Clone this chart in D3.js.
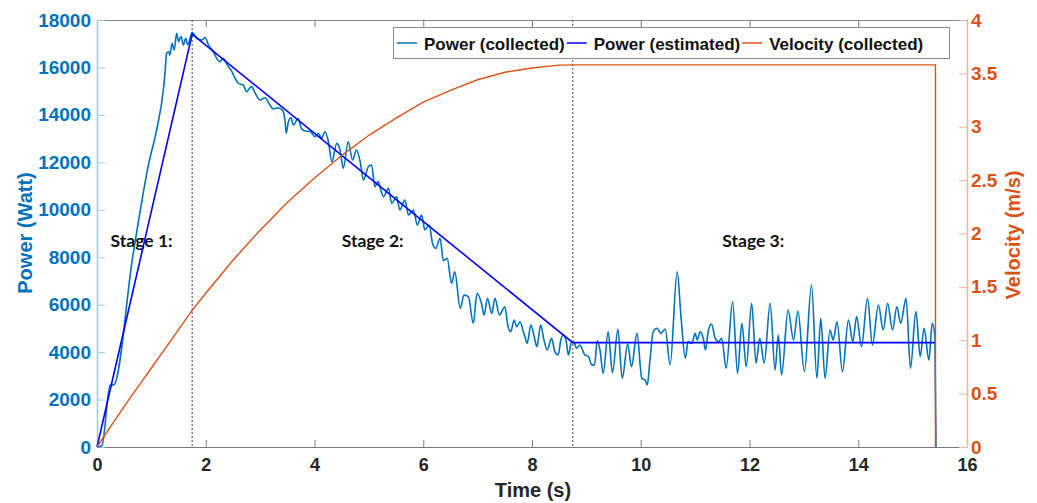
<!DOCTYPE html>
<html><head><meta charset="utf-8">
<script src="https://cdn.jsdelivr.net/npm/d3@7"></script>
<style>
html,body{margin:0;padding:0;background:#fff;}
svg{display:block;}
text{font-family:"Liberation Sans",Arial,sans-serif;font-weight:bold;}
</style></head>
<body><svg id="c" width="1037" height="503"></svg>
<script>
// ---- data ----
const xTicks = [0,2,4,6,8,10,12,14,16];
const powerTicks = [0,2000,4000,6000,8000,10000,12000,14000,16000,18000];
const velTicks = [0,0.5,1,1.5,2,2.5,3,3.5,4];
const stageBounds = [1.75, 8.75];
const stageLabels = ["Stage 1:","Stage 2:","Stage 3:"];
const stageLabelX = [0.25, 4.5, 11.5];
const legendLabels = ["Power (collected)","Power (estimated)","Velocity (collected)"];

const powerTime = [0,0.09,0.24,0.31,0.656,0.956,1.1,1.22,1.25,1.28,1.32,1.34,1.38,1.42,1.465,1.5,1.545,1.59,1.63,1.67,1.75,
1.83,1.93,1.99,2.05,2.14,2.2,2.26,2.32,2.39,2.48,2.54,2.6,2.69,2.75,2.84,2.91,3.0,3.09,3.18,3.24,3.33,3.41,3.46,3.48,3.52,3.57,3.61,3.7,3.76,3.83,
3.92,4.01,4.07,4.13,4.19,4.25,4.32,4.41,4.47,4.53,4.62,4.7,4.77,4.84,4.9,4.99,5.05,5.11,5.17,5.22,5.27,5.36,5.42,5.51,5.57,5.66,5.73,5.82,5.89,5.97,6.03,6.11,6.17,6.23,6.31,6.37,6.44,
6.52,6.58,6.68,6.75,6.83,6.92,6.99,7.07,7.12,7.18,7.26,7.32,7.4,7.5,7.56,7.61,7.67,7.72,7.78,7.84,7.87,7.91,7.98,8.04,8.09,8.16,8.22,8.28,8.36,8.42,8.48,8.53,8.58,8.63,8.67,8.73,
8.78,8.82,8.88,8.93,8.97,9.04,9.1,9.15,9.2,9.25,9.31,9.4,9.48,9.58,9.66,9.76,9.83,9.93,10.02,10.08,10.12,10.17,10.23,10.3,10.37,10.45,10.54,10.67,10.74,10.82,10.87,10.94,11.0,11.04,11.09,11.15,11.19,11.24,11.3,11.37,11.43,11.49,11.57,11.69,11.78,11.86,11.94,12.04,12.12,12.19,12.27,12.38,12.47,12.53,12.59,12.71,12.81,12.89,13.01,13.14,13.24,13.31,13.39,13.48,13.54,13.61,13.71,13.82,13.9,13.97,14.06,14.17,14.26,14.37,14.46,14.54,14.63,14.71,14.78,14.88,14.96,15.06,15.14,15.21,15.3,15.36,15.41,15.43];
const powerCollected = [0,50,2600,2620,8000,12000,13400,15050,15750,16600,16660,16520,17020,16740,17440,17090,17300,16950,17230,16950,17480,
17230,17160,17260,16950,16660,16385,16240,16385,16130,15820,15540,15330,15260,14980,15190,14910,14630,14725,14420,14250,14300,14200,13715,13225,13715,13880,13570,13850,13430,13320,
13300,13080,13225,13010,13290,12940,12030,12800,12520,11750,12870,12100,12520,12030,11255,11815,11890,10975,11185,10835,10550,10905,10275,10550,9990,10410,9780,9990,9360,9780,9150,9360,8590,8375,8800,7850,7955,
6900,7390,5845,6410,6335,5215,6480,6060,5565,6270,5635,6270,5565,5915,5070,4860,5355,5070,5280,4860,4650,4370,5145,4650,4230,5145,4510,4090,4580,4020,3880,4510,4720,4440,3880,4440,
4370,4160,4300,4090,3880,3810,3460,3460,4480,4090,3105,4860,3130,4960,2895,4340,3385,4790,2895,2825,2615,3670,4860,5005,4790,4975,3460,7390,5495,3740,4440,4370,4790,4510,4860,4580,4090,4860,5185,4580,4440,4580,3320,6125,3105,5215,3385,6060,3530,4580,3530,6060,3245,4720,3035,5775,4510,5735,3175,6830,2895,5425,2895,4930,4510,5280,3175,5355,4440,5495,4230,6270,4300,5985,4930,6060,4930,5915,5215,6270,3320,5705,3810,5005,3670,5215,4650,0];

const estTime = [0,1.75,8.75,15.42];
const powerEstimated = [0,17400,4400,4400];

const velTime = [0,0.25,0.5,0.75,1,1.25,1.5,1.75,2,2.5,3,3.5,4,4.5,5,5.5,6,6.5,7,7.5,8,8.5,8.75,15.42,15.42];
const velocity = [0,0.19,0.38,0.56,0.74,0.92,1.1,1.28,1.44,1.75,2.03,2.29,2.52,2.73,2.92,3.08,3.23,3.34,3.44,3.51,3.55,3.577,3.58,3.58,0];

// ---- chart ----
const L = 97, R = 967, T = 20, B = 447;
const cBlue = "#0072BD", cOrange = "#D95319", cEst = "#0000FF";
const svg = d3.select("#c");
svg.append("rect").attr("width",1037).attr("height",503).attr("fill","#fff");

const x = d3.scaleLinear().domain([0,16]).range([L,R]);
const yP = d3.scaleLinear().domain([0,18000]).range([B,T]);
const yV = d3.scaleLinear().domain([0,4]).range([B,T]);

// top box line
svg.append("line").attr("x1",L).attr("x2",R).attr("y1",T+0.5).attr("y2",T+0.5).attr("stroke","#8a8a8a");

// x axis bottom
const gx = svg.append("g").attr("transform",`translate(0,${B})`)
  .call(d3.axisBottom(x).tickValues(xTicks).tickSizeInner(-7).tickSizeOuter(0).tickPadding(11).tickFormat(d3.format("d")));
gx.select(".domain").attr("stroke","#7a7a7a");
gx.selectAll(".tick line").attr("stroke","#7a7a7a");
gx.selectAll("text").attr("fill","#262626").style("font-size","18px");
// x axis top ticks
const gxt = svg.append("g").attr("transform",`translate(0,${T})`)
  .call(d3.axisTop(x).tickValues(xTicks).tickSizeInner(-7).tickSizeOuter(0).tickFormat(""));
gxt.select(".domain").remove();
gxt.selectAll(".tick line").attr("stroke","#7a7a7a");

// left axis
const gl = svg.append("g").attr("transform",`translate(${L},0)`)
  .call(d3.axisLeft(yP).tickValues(powerTicks).tickSizeInner(-8).tickSizeOuter(0).tickPadding(6).tickFormat(d3.format("d")));
gl.select(".domain").attr("stroke","#9cc6e6").attr("stroke-width",1.5);
gl.selectAll(".tick line").attr("stroke","#9cc6e6");
gl.selectAll("text").attr("fill",cBlue).style("font-size","19px");

// right axis
const gr = svg.append("g").attr("transform",`translate(${R},0)`)
  .call(d3.axisRight(yV).tickValues(velTicks).tickSizeInner(-8).tickSizeOuter(0).tickPadding(4).tickFormat(d=>String(d)));
gr.select(".domain").attr("stroke","#f0b59c").attr("stroke-width",1.5);
gr.selectAll(".tick line").attr("stroke","#f0b59c");
gr.selectAll("text").attr("fill",cOrange).style("font-size","19px");

// axis titles
svg.append("text").attr("transform",`translate(32,233) rotate(-90)`).attr("text-anchor","middle")
  .attr("fill",cBlue).style("font-size","20px").text("Power (Watt)");
svg.append("text").attr("transform",`translate(1020,235) rotate(-90)`).attr("text-anchor","middle")
  .attr("fill",cOrange).style("font-size","20px").text("Velocity (m/s)");
svg.append("text").attr("x",533).attr("y",497).attr("text-anchor","middle")
  .attr("fill","#262626").style("font-size","20px").text("Time (s)");

// stage boundaries
svg.selectAll("line.stage").data(stageBounds).enter().append("line").attr("class","stage")
  .attr("x1",d=>x(d)).attr("x2",d=>x(d)).attr("y1",T).attr("y2",B)
  .attr("stroke","#444").attr("stroke-width",1).attr("stroke-dasharray","2,2");

// stage labels
svg.selectAll("text.stg").data(stageLabels).enter().append("text").attr("class","stg")
  .attr("x",(d,i)=>x(stageLabelX[i])).attr("y",247)
  .style("font-family","Lato, 'Open Sans', sans-serif").style("font-weight","bold").style("font-size","17.5px")
  .attr("fill","#111").text(d=>d);

// lines
const collected = powerTime.map((t,i)=>[t,powerCollected[i]]);
const est = estTime.map((t,i)=>[t,powerEstimated[i]]);
const vel = velTime.map((t,i)=>[t,velocity[i]]);

svg.append("path").datum(collected).attr("fill","none").attr("stroke",cBlue).attr("stroke-width",1.6)
  .attr("d",d3.line().x(d=>x(d[0])).y(d=>yP(d[1])).curve(d3.curveMonotoneX));
svg.append("path").datum(est).attr("fill","none").attr("stroke",cEst).attr("stroke-width",1.6)
  .attr("d",d3.line().x(d=>x(d[0])).y(d=>yP(d[1])));
svg.append("path").datum(vel).attr("fill","none").attr("stroke",cOrange).attr("stroke-width",1.4)
  .attr("d",d3.line().x(d=>x(d[0])).y(d=>yV(d[1])));

// legend
const lg = svg.append("g");
lg.append("rect").attr("x",393.5).attr("y",27.5).attr("width",556).attr("height",31)
  .attr("fill","#fff").attr("stroke","#8c8c8c");
const legColors = [cBlue,cEst,cOrange];
let cx = 397;
legendLabels.forEach((lab,i)=>{
  lg.append("line").attr("x1",cx).attr("x2",cx+20).attr("y1",43).attr("y2",43)
    .attr("stroke",legColors[i]).attr("stroke-width",1.5);
  const t = lg.append("text").attr("x",cx+27).attr("y",49.5).attr("fill","#111").style("font-size","17px").text(lab);
  cx = cx + 27 + t.node().getComputedTextLength() + 2;
});
</script>
</body></html>
